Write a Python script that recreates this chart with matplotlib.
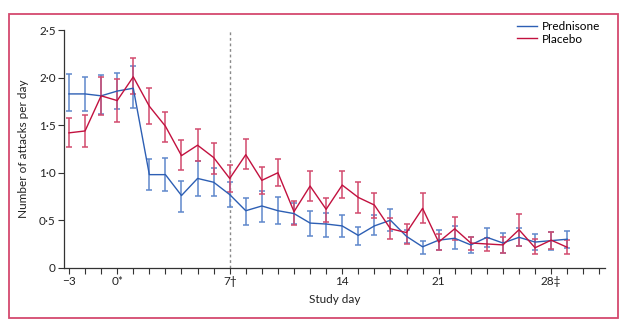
import matplotlib
matplotlib.use("Agg")
import matplotlib.pyplot as plt
import numpy as np
from matplotlib.patches import Rectangle

plt.rcParams['font.family'] = ['Lato', 'DejaVu Sans']

# Study-day ticks (one tick per plotted point) and labelled ticks
tick_label_index = [0, 3, 10, 17, 23, 30]
tick_labels = ['\u22123', '0*', '7\u2020', '14', '21', '28\u2021']
n_ticks = 34

pred_mean = [1.83, 1.83, 1.81, 1.86, 1.89, 0.98, 0.98, 0.76, 0.94, 0.90,
             0.77, 0.60, 0.65, 0.60, 0.57, 0.47, 0.46, 0.44, 0.34, 0.44,
             0.50, 0.33, 0.22, 0.29, 0.31, 0.24, 0.32, 0.26, 0.32, 0.27,
             0.285, 0.30]
pred_hi = [2.04, 2.01, 2.03, 2.05, 2.12, 1.14, 1.15, 0.91, 1.12, 1.05,
           0.90, 0.73, 0.81, 0.74, 0.68, 0.60, 0.58, 0.555, 0.43, 0.55,
           0.62, 0.40, 0.28, 0.40, 0.44, 0.32, 0.42, 0.37, 0.415, 0.35,
           0.38, 0.39]
pred_lo = [1.65, 1.65, 1.62, 1.67, 1.68, 0.82, 0.81, 0.59, 0.76, 0.76,
           0.64, 0.45, 0.485, 0.46, 0.46, 0.33, 0.32, 0.32, 0.24, 0.345,
           0.39, 0.26, 0.145, 0.19, 0.20, 0.155, 0.215, 0.155, 0.23, 0.19,
           0.19, 0.21]

plac_mean = [1.42, 1.44, 1.81, 1.76, 2.01, 1.70, 1.49, 1.18, 1.29, 1.16,
             0.94, 1.19, 0.92, 1.00, 0.59, 0.86, 0.615, 0.87, 0.74, 0.66,
             0.41, 0.37, 0.625, 0.27, 0.41, 0.26, 0.25, 0.24, 0.40, 0.21,
             0.29, 0.215]
plac_hi = [1.58, 1.61, 2.01, 1.99, 2.21, 1.89, 1.64, 1.34, 1.46, 1.31,
           1.08, 1.36, 1.06, 1.14, 0.70, 1.02, 0.73, 1.02, 0.90, 0.79,
           0.52, 0.46, 0.79, 0.36, 0.53, 0.32, 0.31, 0.32, 0.57, 0.30,
           0.38, 0.29]
plac_lo = [1.27, 1.27, 1.61, 1.53, 1.83, 1.51, 1.32, 1.03, 1.12, 0.99,
           0.80, 1.04, 0.78, 0.86, 0.45, 0.70, 0.48, 0.73, 0.58, 0.52,
           0.30, 0.25, 0.47, 0.19, 0.29, 0.19, 0.18, 0.155, 0.23, 0.145,
           0.195, 0.145]

series = [
    ('Prednisone', pred_mean, pred_lo, pred_hi, '#2d5fb4', '#5f88cc'),
    ('Placebo', plac_mean, plac_lo, plac_hi, '#c2113f', '#d24a6e'),
]

W, H = 626, 324
fig = plt.figure(figsize=(W / 100, H / 100), dpi=100)
ax = fig.add_axes([64 / W, (H - 267.7) / H, (605 - 64) / W, (267.7 - 30.3) / H])

# Outer pink frame
fig.patches.append(Rectangle((9 / W, (H - 318) / H), (617.7 - 9) / W, (318 - 14) / H,
                             transform=fig.transFigure, fill=False,
                             edgecolor='#d4496e', linewidth=1.3))

for name, m, lo, hi, c, ec in series:
    m = np.array(m); lo = np.array(lo); hi = np.array(hi)
    x = np.arange(len(m))
    ax.errorbar(x, m, yerr=[m - lo, hi - m], fmt='none', ecolor=ec, elinewidth=1.1,
                capsize=2.3, capthick=1.1, zorder=2)
    ax.plot(x, m, color=c, linewidth=1.0, label=name, zorder=3)

ax.axvline(tick_label_index[2], ymin=0, ymax=1, color='#8a8a8a', linewidth=1.0,
           linestyle=(0, (2, 2)), zorder=1)

ax.set_xlim(-0.31, 33.35)
ax.set_ylim(0, 2.5)
ax.set_xticks(np.arange(n_ticks))
labels = [''] * n_ticks
for i, t in zip(tick_label_index, tick_labels):
    labels[i] = t
ax.set_xticklabels(labels)
yt = [0, 0.5, 1.0, 1.5, 2.0, 2.5]
ax.set_yticks(yt)
ax.set_yticklabels(['0', '0\u00b75', '1\u00b70', '1\u00b75', '2\u00b70', '2\u00b75'])

for s in ['top', 'right']:
    ax.spines[s].set_visible(False)
for s in ['left', 'bottom']:
    ax.spines[s].set_color('#333333')
    ax.spines[s].set_linewidth(0.9)
ax.tick_params(axis='both', colors='#333333', length=4, width=0.8,
               labelsize=8.5, pad=2, labelcolor='#222222')

ax.set_ylabel('Number of attacks per day', fontsize=8.5, color='#222222', labelpad=7)
ax.set_xlabel('Study day', fontsize=8.5, color='#222222', labelpad=5)

leg = ax.legend(loc='upper right', bbox_to_anchor=(1.0, 1.06), frameon=False,
                fontsize=8.5, handlelength=1.7, handletextpad=0.4,
                labelspacing=0.15, borderaxespad=0)

fig.savefig('out.png', dpi=100)
